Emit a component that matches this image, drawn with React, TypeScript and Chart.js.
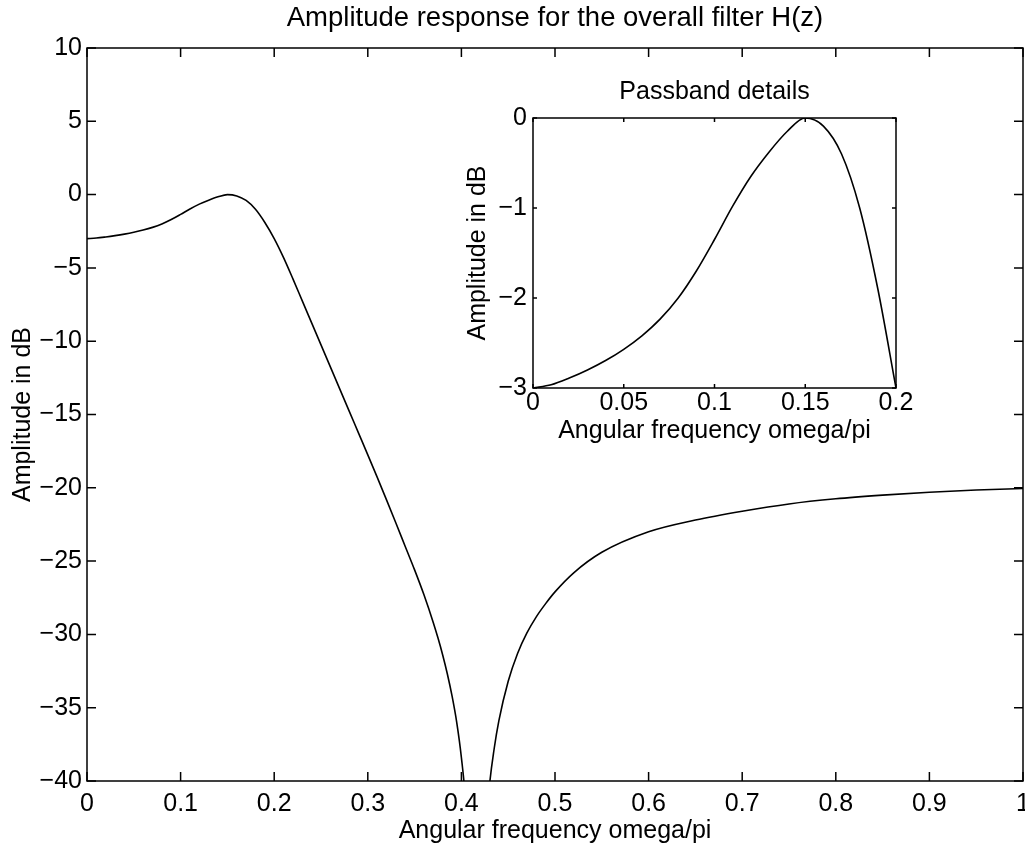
import React, { useEffect, useRef } from 'react';
import { Chart, registerables } from 'chart.js';

Chart.register(...registerables);

// ---- Data ----
const mainFreq = [
  0, 0.01, 0.02, 0.03, 0.04, 0.05, 0.06, 0.07, 0.08, 0.09, 0.1,
  0.11, 0.12, 0.13, 0.14, 0.15, 0.16, 0.17, 0.18, 0.19, 0.2,
  0.21, 0.22, 0.23, 0.24, 0.25, 0.26, 0.27, 0.28, 0.29, 0.3,
  0.31, 0.32, 0.33, 0.34, 0.35, 0.36, 0.37, 0.375, 0.38, 0.385, 0.39, 0.395, 0.4,
  0.405, 0.41, 0.415, 0.42, 0.425, 0.43, 0.435, 0.44, 0.45, 0.46,
  0.47, 0.48, 0.49, 0.5, 0.52, 0.55, 0.6, 0.65, 0.7, 0.75, 0.8,
  0.85, 0.9, 0.95, 1.0,
];
const mainDb = [
  -3.0, -2.965, -2.89, -2.8, -2.695, -2.57, -2.42, -2.235, -2.0, -1.7, -1.35,
  -0.98, -0.65, -0.38, -0.15, 0.0, -0.09, -0.4, -1.0, -1.9, -3.0,
  -4.3, -5.75, -7.25, -8.75, -10.25, -11.75, -13.25, -14.75, -16.25, -17.75,
  -19.27, -20.82, -22.4, -24.0, -25.6, -27.3, -29.2, -30.25, -31.4, -32.7, -34.2, -36.0, -38.4,
  -41.8, -48.0, -65.0, -52.0, -44.5, -40.3, -37.8, -35.9, -33.2, -31.3,
  -29.9, -28.8, -27.9, -27.1, -25.8, -24.4, -23.0, -22.2, -21.6, -21.1, -20.75,
  -20.5, -20.3, -20.15, -20.05,
];

const mainXTickLabels = ['0', '0.1', '0.2', '0.3', '0.4', '0.5', '0.6', '0.7', '0.8', '0.9', '1'];
const mainYTickLabels = ['\u221240', '\u221235', '\u221230', '\u221225', '\u221220', '\u221215', '\u221210', '\u22125', '0', '5', '10'];
const insetXTickLabels = ['0', '0.05', '0.1', '0.15', '0.2'];
const insetYTickLabels = ['\u22123', '\u22122', '\u22121', '0'];

const mainTitle = 'Amplitude response for the overall filter H(z)';
const insetTitle = 'Passband details';
const xAxisTitle = 'Angular frequency omega/pi';
const yAxisTitle = 'Amplitude in dB';

const FONT = 'Liberation Sans, Arial, Helvetica, sans-serif';
const FS = 25;

function boxTicksPlugin(len: number, whiteFill: boolean) {
  return {
    id: 'boxTicks',
    beforeDatasetsDraw(chart: any) {
      if (!whiteFill) return;
      const { ctx, chartArea: a } = chart;
      ctx.save();
      ctx.fillStyle = '#fff';
      ctx.fillRect(a.left, a.top, a.right - a.left, a.bottom - a.top);
      ctx.restore();
    },
    afterDraw(chart: any) {
      const { ctx, chartArea: a, scales } = chart;
      ctx.save();
      ctx.strokeStyle = '#000';
      ctx.lineWidth = 1.5;
      ctx.strokeRect(a.left, a.top, a.right - a.left, a.bottom - a.top);
      ctx.beginPath();
      scales.x.ticks.forEach((t: any) => {
        const px = scales.x.getPixelForValue(t.value);
        ctx.moveTo(px, a.bottom);
        ctx.lineTo(px, a.bottom - len);
        ctx.moveTo(px, a.top);
        ctx.lineTo(px, a.top + len);
      });
      scales.y.ticks.forEach((t: any) => {
        const py = scales.y.getPixelForValue(t.value);
        ctx.moveTo(a.left, py);
        ctx.lineTo(a.left + len, py);
        ctx.moveTo(a.right, py);
        ctx.lineTo(a.right - len, py);
      });
      ctx.stroke();
      ctx.restore();
    },
  };
}

function makeOptions(cfg: any) {
  return {
    responsive: false,
    animation: false,
    devicePixelRatio: 1,
    layout: { padding: { left: 0, right: cfg.padRight, top: 0, bottom: 0 } },
    plugins: {
      legend: { display: false },
      tooltip: { enabled: false },
      title: {
        display: true,
        text: cfg.title,
        fullSize: false,
        color: '#000',
        font: { family: FONT, size: cfg.titleSize, weight: 'normal' },
        padding: { top: cfg.titleTop, bottom: cfg.titleBottom },
      },
    },
    scales: {
      x: {
        type: 'linear',
        min: cfg.xMin,
        max: cfg.xMax,
        grid: { display: false, drawTicks: false },
        border: { display: false },
        ticks: {
          stepSize: cfg.xStep,
          autoSkip: false,
          maxRotation: 0,
          color: '#000',
          padding: cfg.xTickPad,
          font: { family: FONT, size: FS },
          callback: (_v: any, i: number) => cfg.xLabels[i],
        },
        title: {
          display: true,
          text: xAxisTitle,
          color: '#000',
          font: { family: FONT, size: FS },
          padding: { top: 0, bottom: cfg.xTitlePad },
        },
        afterFit: (s: any) => {
          s.height = cfg.xHeight;
          s.paddingLeft = 0;
          s.paddingRight = 0;
        },
      },
      y: {
        type: 'linear',
        min: cfg.yMin,
        max: cfg.yMax,
        grid: { display: false, drawTicks: false },
        border: { display: false },
        ticks: {
          stepSize: cfg.yStep,
          autoSkip: false,
          color: '#000',
          padding: cfg.yTickPad,
          font: { family: FONT, size: FS },
          callback: (_v: any, i: number) => cfg.yLabels[i],
        },
        title: {
          display: true,
          text: yAxisTitle,
          color: '#000',
          font: { family: FONT, size: FS },
          padding: { top: cfg.yTitlePad, bottom: 0 },
        },
        afterFit: (s: any) => {
          s.width = cfg.yWidth;
          s.paddingTop = 0;
          s.paddingBottom = 0;
        },
      },
    },
  };
}

export default function App() {
  const mainRef = useRef<HTMLCanvasElement>(null);
  const insetRef = useRef<HTMLCanvasElement>(null);

  useEffect(() => {
    const mainPoints = mainFreq.map((x, i) => ({ x, y: mainDb[i] }));
    const insetPoints = mainPoints.filter((p) => p.x <= 0.2 + 1e-9);

    const main = new Chart(mainRef.current as HTMLCanvasElement, {
      type: 'line',
      data: {
        datasets: [
          {
            data: mainPoints,
            borderColor: '#000',
            borderWidth: 1.6,
            pointRadius: 0,
            cubicInterpolationMode: 'monotone',
          },
        ],
      },
      options: makeOptions({
        title: mainTitle,
        titleSize: 27.5,
        padRight: 2,
        titleTop: 1.5,
        titleBottom: 13.5,
        xMin: 0, xMax: 1, xStep: 0.1, xLabels: mainXTickLabels,
        yMin: -40, yMax: 10, yStep: 5, yLabels: mainYTickLabels,
        xTickPad: 8.5, xTitlePad: 2, xHeight: 67,
        yTickPad: 5, yTitlePad: 8.5, yWidth: 87,
      }) as any,
      plugins: [boxTicksPlugin(9, false)],
    });

    const inset = new Chart(insetRef.current as HTMLCanvasElement, {
      type: 'line',
      data: {
        datasets: [
          {
            data: insetPoints,
            borderColor: '#000',
            borderWidth: 1.6,
            pointRadius: 0,
            cubicInterpolationMode: 'monotone',
          },
        ],
      },
      options: makeOptions({
        title: insetTitle,
        titleSize: 25,
        padRight: 24,
        titleTop: 7,
        titleBottom: 11,
        xMin: 0, xMax: 0.2, xStep: 0.05, xLabels: insetXTickLabels,
        yMin: -3, yMax: 0, yStep: 1, yLabels: insetYTickLabels,
        xTickPad: 0, xTitlePad: 14, xHeight: 72,
        yTickPad: 6, yTitlePad: 23, yWidth: 93,
      }) as any,
      plugins: [boxTicksPlugin(4, true)],
    });

    return () => {
      main.destroy();
      inset.destroy();
    };
  }, []);

  return (
    <div style={{ position: 'fixed', left: 0, top: 0, width: 1025, height: 848, background: '#fff' }}>
      <canvas ref={mainRef} width={1025} height={848} style={{ position: 'absolute', left: 0, top: 0, width: 1025, height: 848 }} />
      <canvas ref={insetRef} width={480} height={390} style={{ position: 'absolute', left: 440, top: 70, width: 480, height: 390 }} />
    </div>
  );
}
